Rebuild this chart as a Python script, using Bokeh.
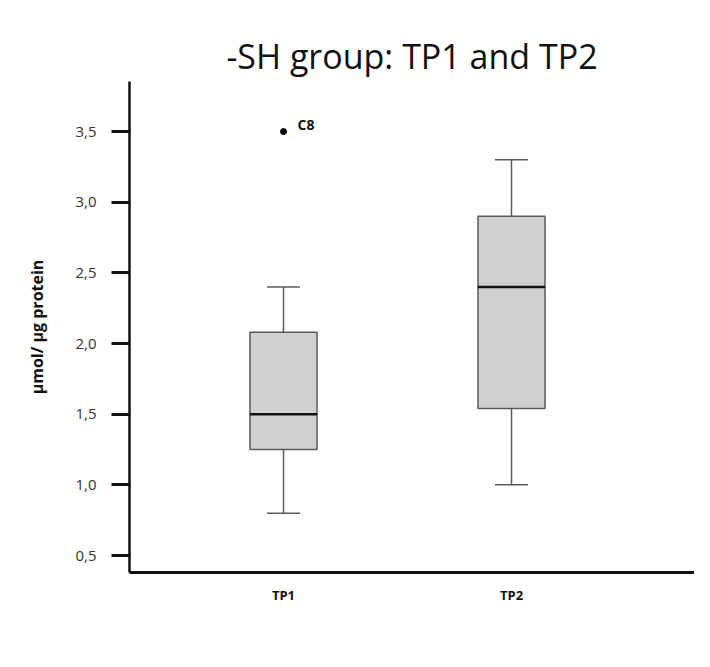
from bokeh.plotting import figure
from bokeh.models import FixedTicker, Range1d, ColumnDataSource, LabelSet
from bokeh.core.properties import value
from bokeh.embed import file_html
from bokeh.resources import INLINE

# ---- data ----
categories = ["TP1", "TP2"]
x_pos = [1, 2]
lower_whisker = [0.80, 1.00]
q1 = [1.25, 1.54]
median = [1.50, 2.40]
q3 = [2.08, 2.90]
upper_whisker = [2.40, 3.30]
outlier_x = [1]
outlier_values = [3.5]
outlier_labels = ["C8"]
y_ticks = [0.5, 1.0, 1.5, 2.0, 2.5, 3.0, 3.5]
y_tick_labels = ["0,5", "1,0", "1,5", "2,0", "2,5", "3,0", "3,5"]

FONT = "Open Sans"
box_w = 0.294
cap_w = 0.145

p = figure(width=694, height=651, output_backend="svg", toolbar_location=None,
           x_range=Range1d(0.3246, 2.8026), y_range=Range1d(0.38, 3.854),
           title="-SH group: TP1 and TP2",
           min_border_left=129, min_border_right=0, min_border_top=81, min_border_bottom=79)

p.title.align = "center"
p.title.text_font = FONT
p.title.text_font_size = "34px"
p.title.text_font_style = "normal"
p.title.text_color = "#111111"
p.title.standoff = 6

p.outline_line_color = None
p.grid.visible = False
p.background_fill_color = "white"
p.border_fill_color = "white"

src = ColumnDataSource(dict(x=x_pos, lw=lower_whisker, q1=q1, med=median, q3=q3, uw=upper_whisker,
                            x0=[x - box_w / 2 for x in x_pos], x1=[x + box_w / 2 for x in x_pos],
                            c0=[x - cap_w / 2 for x in x_pos], c1=[x + cap_w / 2 for x in x_pos]))

# whiskers
p.segment(x0="x", y0="q3", x1="x", y1="uw", source=src, line_color="#5a5a5a", line_width=1.5)
p.segment(x0="x", y0="lw", x1="x", y1="q1", source=src, line_color="#5a5a5a", line_width=1.5)
p.segment(x0="c0", y0="uw", x1="c1", y1="uw", source=src, line_color="#5a5a5a", line_width=1.5)
p.segment(x0="c0", y0="lw", x1="c1", y1="lw", source=src, line_color="#5a5a5a", line_width=1.5)
# boxes
p.quad(left="x0", right="x1", bottom="q1", top="q3", source=src,
       fill_color="#d0d0d0", line_color="#5a5a5a", line_width=1.5)
# medians
p.segment(x0="x0", y0="med", x1="x1", y1="med", source=src, line_color="#111111", line_width=2.5)

# outlier
osrc = ColumnDataSource(dict(x=outlier_x, y=outlier_values, t=outlier_labels))
p.scatter(x="x", y="y", source=osrc, size=6, fill_color="black", line_color="black")
p.add_layout(LabelSet(x="x", y="y", text="t", source=osrc, x_offset=14, y_offset=-2,
                      text_font=value(FONT), text_font_size=value("14px"),
                      text_font_style=value("bold"),
                      text_color=value("#111111"), text_baseline=value("bottom")))

# y axis
ya = p.yaxis[0]
ya.ticker = FixedTicker(ticks=y_ticks)
ya.major_label_overrides = {t: l for t, l in zip(y_ticks, y_tick_labels)}
ya.axis_label = "µmol/ µg protein"
ya.axis_label_text_font = FONT
ya.axis_label_text_font_size = "16px"
ya.axis_label_text_font_style = "bold"
ya.axis_label_text_color = "#111111"
ya.axis_label_standoff = 24
ya.major_label_text_font = FONT
ya.major_label_text_font_size = "15px"
ya.major_label_text_color = "#333333"
ya.major_label_standoff = 15
ya.major_tick_out = 18
ya.major_tick_in = 0
ya.major_tick_line_width = 3
ya.major_tick_line_color = "#111111"
ya.minor_tick_line_color = None
ya.axis_line_width = 2.5
ya.axis_line_color = "#111111"

# x axis
xa = p.xaxis[0]
xa.ticker = FixedTicker(ticks=x_pos)
xa.major_label_overrides = {x: c for x, c in zip(x_pos, categories)}
xa.major_label_text_font = FONT
xa.major_label_text_font_size = "13px"
xa.major_label_text_font_style = "bold"
xa.major_label_text_color = "#111111"
xa.major_label_standoff = 13
xa.major_tick_out = 0
xa.major_tick_in = 0
xa.major_tick_line_color = None
xa.minor_tick_line_color = None
xa.axis_line_width = 3
xa.axis_line_color = "#111111"

open("out.html", "w").write(file_html(p, INLINE))
